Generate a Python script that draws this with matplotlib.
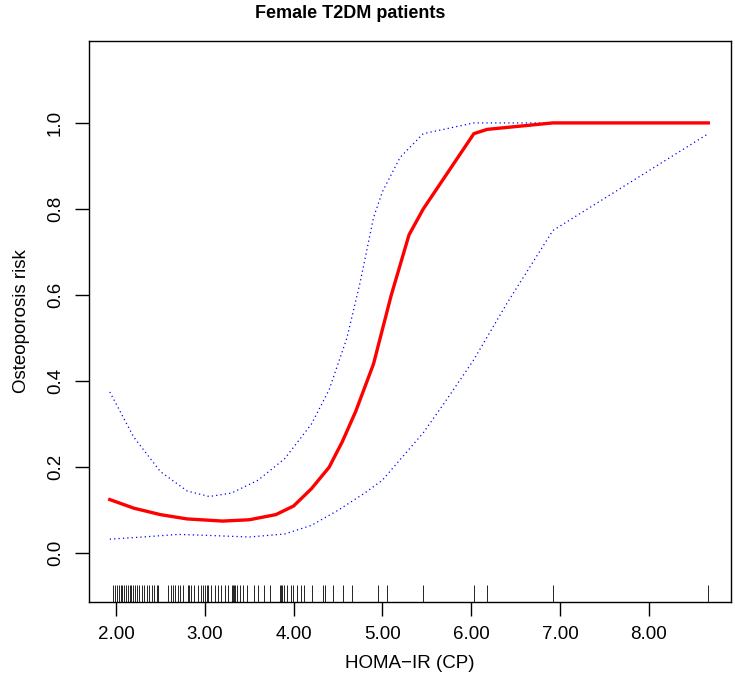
import numpy as np
import matplotlib
matplotlib.use("Agg")
import matplotlib.pyplot as plt
import matplotlib.transforms as mtransforms

plt.rcParams['font.family'] = ['Liberation Sans', 'DejaVu Sans']

# fitted curve (estimate) and 95% CI
fit_x = [1.93, 2.2, 2.5, 2.8, 3.2, 3.5, 3.8, 4.0, 4.2, 4.4, 4.55, 4.7, 4.9, 5.1, 5.3, 5.46, 6.03, 6.18, 6.92, 8.67]
fit_y = [0.125, 0.105, 0.09, 0.08, 0.075, 0.078, 0.09, 0.11, 0.15, 0.2, 0.26, 0.33, 0.44, 0.6, 0.74, 0.80, 0.975, 0.985, 1.0, 1.0]

upper_x = [1.93, 2.2, 2.5, 2.8, 3.05, 3.3, 3.6, 3.9, 4.2, 4.4, 4.6, 4.75, 4.9, 5.0, 5.2, 5.46, 6.03, 6.92, 8.67]
upper_y = [0.375, 0.27, 0.19, 0.145, 0.132, 0.14, 0.17, 0.22, 0.30, 0.38, 0.5, 0.63, 0.78, 0.84, 0.92, 0.975, 1.0, 1.0, 1.0]

lower_x = [1.93, 2.3, 2.7, 3.0, 3.5, 3.9, 4.2, 4.5, 4.8, 5.0, 5.46, 5.7, 6.03, 6.4, 6.92, 8.67]
lower_y = [0.033, 0.038, 0.044, 0.042, 0.038, 0.045, 0.065, 0.1, 0.14, 0.17, 0.28, 0.35, 0.45, 0.58, 0.75, 0.975]

# observed HOMA-IR (CP) values shown as the rug
rug_x = [1.963, 1.989, 2.015, 2.037, 2.056, 2.071, 2.090, 2.109, 2.132, 2.158,
         2.169, 2.188, 2.214, 2.240, 2.262, 2.289, 2.319, 2.345, 2.372, 2.402,
         2.431, 2.458, 2.476, 2.589, 2.616, 2.638, 2.664, 2.698, 2.721, 2.758,
         2.807, 2.826, 2.841, 2.878, 2.920, 2.954, 2.983, 3.002, 3.021, 3.039,
         3.070, 3.115, 3.152, 3.179, 3.227, 3.265, 3.310, 3.321, 3.332, 3.344,
         3.366, 3.396, 3.427, 3.472, 3.554, 3.596, 3.667, 3.734, 3.847, 3.858,
         3.869, 3.892, 3.929, 3.971, 3.997, 4.035, 4.083, 4.114, 4.204, 4.327,
         4.354, 4.447, 4.560, 4.661, 4.954, 5.055, 5.461, 6.032, 6.181, 6.918, 8.670]

x_ticks = [2, 3, 4, 5, 6, 7, 8]
x_ticklabels = ["2.00", "3.00", "4.00", "5.00", "6.00", "7.00", "8.00"]
y_ticks = [0.0, 0.2, 0.4, 0.6, 0.8, 1.0]
y_ticklabels = ["0.0", "0.2", "0.4", "0.6", "0.8", "1.0"]

fig = plt.figure(figsize=(7.35, 6.97), dpi=100)
ax = fig.add_axes([89 / 735, 95 / 697, 642 / 735, 561.3 / 697])

ax.plot(upper_x, upper_y, color="blue", lw=0.9, linestyle=(0, (1, 2.5)))
ax.plot(lower_x, lower_y, color="blue", lw=0.9, linestyle=(0, (1, 2.5)))
ax.plot(fit_x, fit_y, color="red", lw=2.4)

trans = mtransforms.blended_transform_factory(ax.transData, ax.transAxes)
ax.vlines(rug_x, 0, 0.03, transform=trans, color="black", lw=0.6)

ax.set_xlim(1.696, 8.926)
ax.set_ylim(-0.113, 1.191)

ax.set_xticks(x_ticks)
ax.set_xticklabels(x_ticklabels)
ax.set_yticks(y_ticks)
ax.set_yticklabels(y_ticklabels, rotation=90, va="center")
ax.tick_params(direction="out", length=10, width=1, labelsize=13.5)
ax.tick_params(axis="x", pad=7)
ax.tick_params(axis="y", pad=8)

for s in ax.spines.values():
    s.set_linewidth(1)

ax.set_xlabel("HOMA\u2212IR (CP)", fontsize=13.5, labelpad=9)
ax.set_ylabel("Osteoporosis risk", fontsize=13.5, labelpad=12)
fig.text(350 / 735, 1 - 13 / 697, "Female T2DM patients", fontsize=13,
         fontweight="bold", ha="center", va="center")

fig.savefig("out.png", dpi=100)
